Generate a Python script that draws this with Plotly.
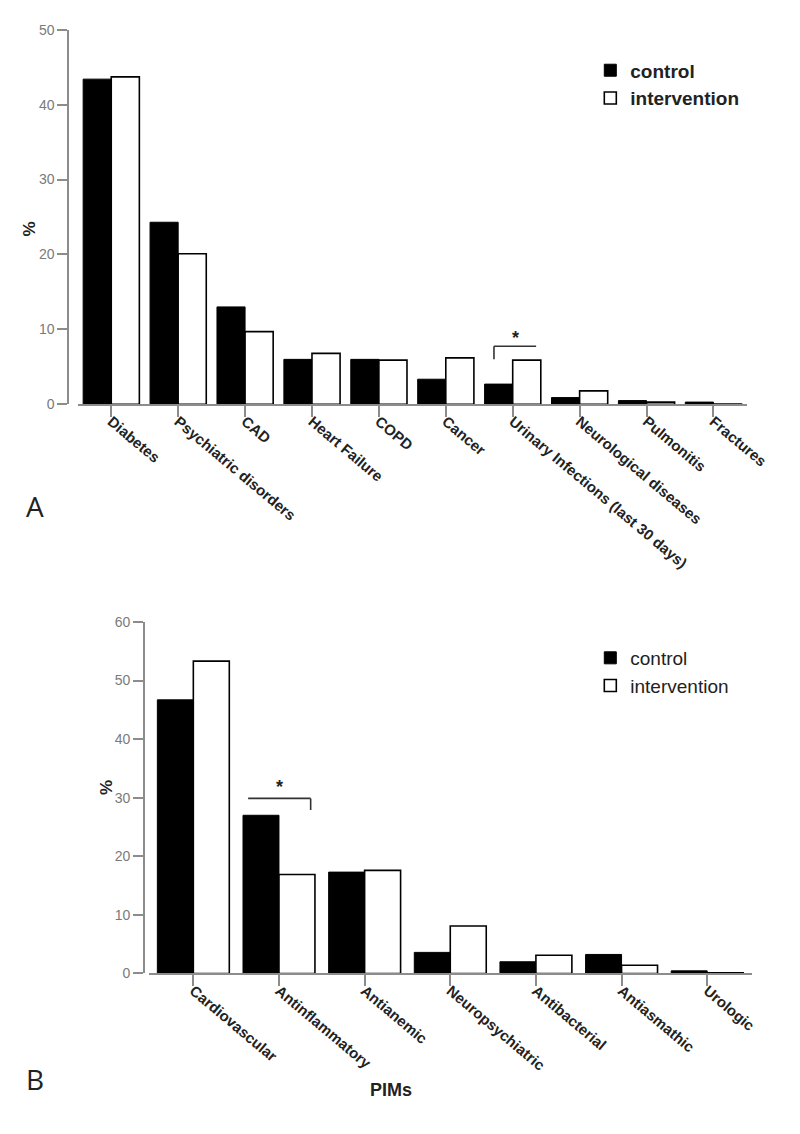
import plotly.graph_objects as go

# ---------------- data ----------------
cat_a = ["Diabetes", "Psychiatric disorders", "CAD", "Heart Failure", "COPD", "Cancer",
         "Urinary Infections (last 30 days)", "Neurological diseases", "Pulmonitis", "Fractures"]
ctrl_a = [43.4, 24.3, 13.0, 6.0, 6.0, 3.35, 2.7, 0.9, 0.5, 0.3]
int_a = [43.7, 20.1, 9.7, 6.8, 5.9, 6.2, 5.9, 1.8, 0.3, 0.05]
yticks_a = [0, 10, 20, 30, 40, 50]
sig_a = ["Urinary Infections (last 30 days)"]

cat_b = ["Cardiovascular", "Antinflammatory", "Antianemic", "Neuropsychiatric",
         "Antibacterial", "Antiasmathic", "Urologic"]
ctrl_b = [46.7, 27.0, 17.3, 3.6, 2.0, 3.25, 0.45]
int_b = [53.3, 16.9, 17.6, 8.1, 3.1, 1.4, 0.1]
yticks_b = [0, 10, 20, 30, 40, 50, 60]
sig_b = ["Antinflammatory"]

series_names = ["control", "intervention"]

# ---------------- figure ----------------
W, H = 800, 1134
AX = "#8c8c8c"
TXT = "#222222"
FONT = "Liberation Sans, Arial, sans-serif"

fig = go.Figure()

def add_pair(cats, c, i, xa, ya, leg):
    fig.add_trace(go.Bar(x=cats, y=c, name=series_names[0], xaxis=xa, yaxis=ya, legend=leg,
                         marker=dict(color="black", line=dict(color="black", width=1))))
    fig.add_trace(go.Bar(x=cats, y=i, name=series_names[1], xaxis=xa, yaxis=ya, legend=leg,
                         marker=dict(color="white", line=dict(color="black", width=1.6))))

add_pair(cat_a, ctrl_a, int_a, "x", "y", "legend")
add_pair(cat_b, ctrl_b, int_b, "x2", "y2", "legend2")

def px_x(p):
    return p / W

def px_y(p):
    return 1 - p / H

xcommon = dict(type="category", showline=True, linecolor=AX, linewidth=1.6,
               ticks="outside", ticklen=11, tickwidth=1.6, tickcolor=AX,
               tickangle=40, showgrid=False, zeroline=False, ticklabelstandoff=-10,
               tickfont=dict(family=FONT, size=15, color=TXT, weight="bold"))
ycommon = dict(showline=True, linecolor=AX, linewidth=1.6, ticks="outside", ticklen=10,
               tickwidth=1.6, tickcolor=AX, showgrid=False, zeroline=False,
               tickfont=dict(family=FONT, size=14, color="#7a7a7a"), anchor="free")

fig.update_layout(
    width=W, height=H, autosize=False,
    margin=dict(l=0, r=0, t=0, b=0),
    paper_bgcolor="white", plot_bgcolor="white",
    barmode="group", bargap=0.16, bargroupgap=0,
    xaxis=dict(xcommon, domain=[px_x(80), px_x(768)], anchor="y", range=[-0.5, len(cat_a) - 0.5]),
    yaxis=dict(ycommon, domain=[px_y(402), px_y(22)], position=px_x(70),
               range=[0, yticks_a[-1]], tickvals=yticks_a),
    xaxis2=dict(xcommon, domain=[px_x(153), px_x(773)], anchor="y2", range=[-0.52, len(cat_b) - 0.48]),
    yaxis2=dict(ycommon, domain=[px_y(979.3), px_y(622.7)], position=px_x(148),
                range=[0, yticks_b[-1]], tickvals=yticks_b),
    legend=dict(x=px_x(607), y=px_y(44), xanchor="left", yanchor="top",
                font=dict(family=FONT, size=19, color=TXT, weight="bold"),
                bgcolor="rgba(0,0,0,0)", itemclick=False, tracegroupgap=0),
    legend2=dict(x=px_x(607), y=px_y(640), xanchor="left", yanchor="top",
                 font=dict(family=FONT, size=19, color=TXT),
                 bgcolor="rgba(0,0,0,0)", itemclick=False, tracegroupgap=0),
)

shapes = []
annotations = []

def bracket(cats, c, i, name, xr, yr, x0off, x1off, yrange, up, leg, leg_side, yshift):
    k = cats.index(name)
    top = max(c[k], i[k]) + up * yrange
    x0, x1 = k + x0off, k + x1off
    shapes.append(dict(type="line", xref=xr, yref=yr, x0=x0, x1=x1, y0=top, y1=top,
                       line=dict(color="#333333", width=1.6)))
    lx = x0 if leg_side == "left" else x1
    shapes.append(dict(type="line", xref=xr, yref=yr, x0=lx, x1=lx, y0=top, y1=top - leg * yrange,
                       line=dict(color="#333333", width=1.6)))
    annotations.append(dict(xref=xr, yref=yr, x=(x0 + x1) / 2, y=top, text="*", showarrow=False,
                            yanchor="bottom", yshift=yshift,
                            font=dict(family=FONT, size=18, color=TXT, weight="bold")))

for s in sig_a:
    bracket(cat_a, ctrl_a, int_a, s, "x", "y", -0.28, 0.35, yticks_a[-1], 0.037, 0.035, "left", -4)
for s in sig_b:
    bracket(cat_b, ctrl_b, int_b, s, "x2", "y2", -0.36, 0.37, yticks_b[-1], 0.048, 0.033, "right", -1)

annotations += [
    dict(xref="paper", yref="paper", x=px_x(19), y=px_y(214), text="<b>%</b>", textangle=-90,
         showarrow=False, font=dict(family=FONT, size=17, color=TXT)),
    dict(xref="paper", yref="paper", x=px_x(97), y=px_y(800), text="<b>%</b>", textangle=-90,
         showarrow=False, font=dict(family=FONT, size=17, color=TXT)),
    dict(xref="paper", yref="paper", x=px_x(402), y=px_y(1110), text="<b>PIMs</b>",
         showarrow=False, font=dict(family=FONT, size=18, color=TXT)),
    dict(xref="paper", yref="paper", x=px_x(25), y=px_y(505), text="A",
         showarrow=False, font=dict(family="Open Sans, sans-serif", size=28, color=TXT)),
    dict(xref="paper", yref="paper", x=px_x(25), y=px_y(1108), text="B",
         showarrow=False, font=dict(family="Open Sans, sans-serif", size=28, color=TXT)),
]

fig.update_layout(shapes=shapes, annotations=annotations)
fig.write_html("out.html", config={"displayModeBar": False},
               post_script="document.body.style.margin='0';document.body.style.overflow='hidden';")
